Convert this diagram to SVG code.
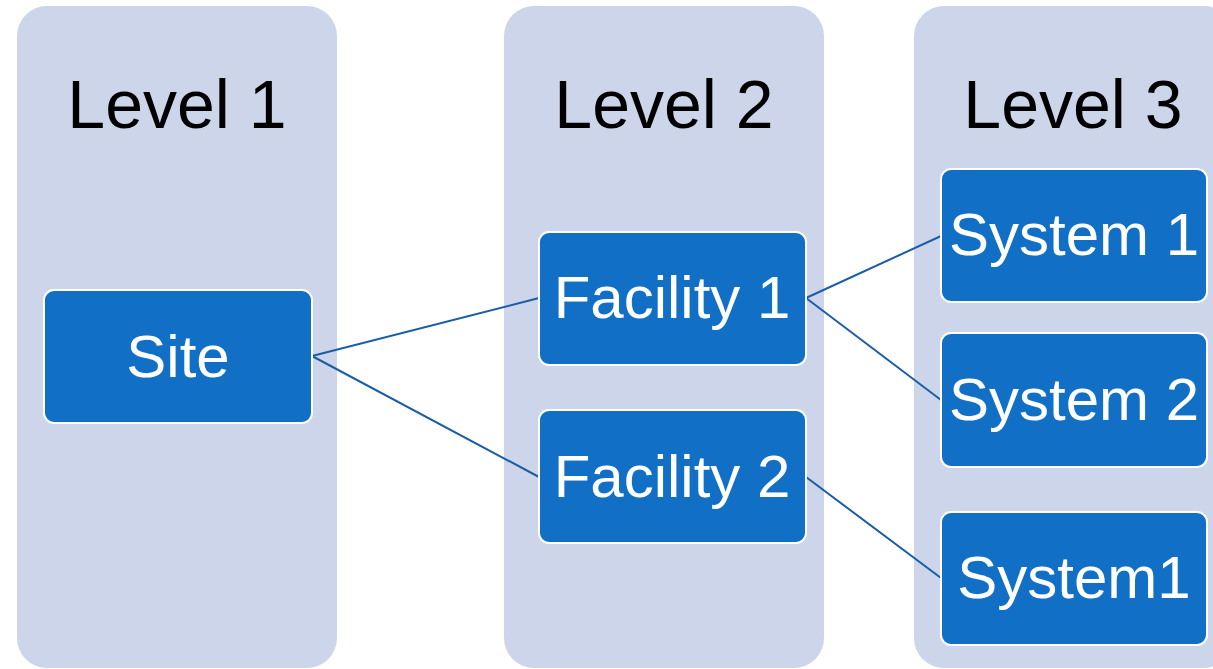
<svg xmlns="http://www.w3.org/2000/svg" width="1213" height="669" viewBox="0 0 1213 669">
  <style>
    .col { fill: #cdd5ea; }
    .box { fill: #1170c6; stroke: #ffffff; stroke-width: 2; }
    .head { font-family: "Liberation Sans", Arial, sans-serif; font-size: 68px; fill: #000000; text-anchor: middle; }
    .lbl { font-family: "Liberation Sans", Arial, sans-serif; font-size: 60px; fill: #ffffff; text-anchor: middle; }
    .link { stroke: #1a5da6; stroke-width: 2; fill: none; }
  </style>
  <rect width="1213" height="669" fill="#ffffff"/>

  <!-- level columns -->
  <g id="level1">
    <rect class="col" x="17" y="6" width="320" height="662" rx="30"/>
    <text class="head" x="177" y="128">Level 1</text>
  </g>
  <g id="level2">
    <rect class="col" x="504" y="6" width="320" height="662" rx="30"/>
    <text class="head" x="664" y="128">Level 2</text>
  </g>
  <g id="level3">
    <rect class="col" x="914" y="6" width="320" height="662" rx="30"/>
    <text class="head" x="1073" y="128">Level 3</text>
  </g>

  <!-- connectors -->
  <g id="connectors">
    <line class="link" x1="312" y1="356" x2="539" y2="298"/>
    <line class="link" x1="312" y1="356" x2="539" y2="477"/>
    <line class="link" x1="806" y1="298" x2="941" y2="236"/>
    <line class="link" x1="806" y1="298" x2="941" y2="400"/>
    <line class="link" x1="806" y1="477" x2="941" y2="578"/>
  </g>

  <!-- nodes -->
  <g id="site">
    <rect class="box" x="44" y="290" width="268" height="133" rx="10"/>
    <text class="lbl" x="178" y="377">Site</text>
  </g>
  <g id="facility1">
    <rect class="box" x="539" y="232" width="267" height="133" rx="10"/>
    <text class="lbl" x="672" y="318">Facility 1</text>
  </g>
  <g id="facility2">
    <rect class="box" x="539" y="410" width="267" height="133" rx="10"/>
    <text class="lbl" x="672" y="497">Facility 2</text>
  </g>
  <g id="system1">
    <rect class="box" x="941" y="169" width="266" height="133" rx="10"/>
    <text class="lbl" x="1074" y="255">System 1</text>
  </g>
  <g id="system2">
    <rect class="box" x="941" y="333" width="266" height="134" rx="10"/>
    <text class="lbl" x="1074" y="420">System 2</text>
  </g>
  <g id="system3">
    <rect class="box" x="941" y="512" width="266" height="133" rx="10"/>
    <text class="lbl" x="1074" y="598">System1</text>
  </g>
</svg>
